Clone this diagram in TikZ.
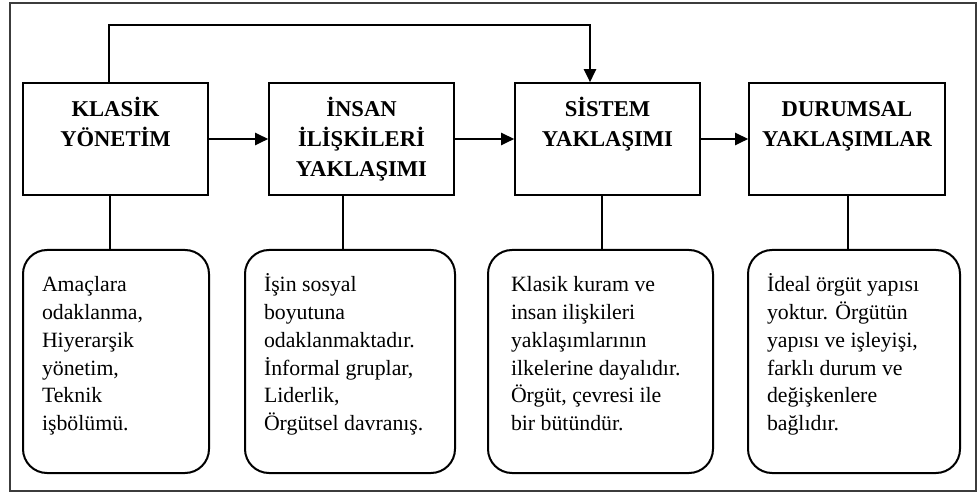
\documentclass[tikz,border=0pt]{standalone}
\usepackage{fontspec}
\setmainfont{Liberation Serif}
\usepackage{xcolor}
\definecolor{cerceve}{RGB}{60,60,60}
\usepackage{tikz}
\usetikzlibrary{arrows.meta}

\newcommand{\baslikmetni}[2]{\parbox[c][112pt][t]{#1}{\centering
  \fontsize{22.6}{30}\selectfont\bfseries\rule{0pt}{34pt}#2}}
\newcommand{\aciklamametni}[2]{\parbox[c][223pt][t]{#1}{\raggedright
  \fontsize{21.8}{27.7}\selectfont\rule{0pt}{42pt}#2}}

\begin{document}
\begin{tikzpicture}[
    x=1pt, y=-1pt,
    baslik/.style={draw, line width=1.6pt, inner sep=0pt},
    aciklama/.style={draw, line width=2pt, rounded corners=24pt,
                     inner xsep=19pt, inner ysep=0pt},
    ok/.style={-{Triangle[length=13pt,width=12pt]}, line width=2.5pt},
    hat/.style={-, line width=2.5pt}
  ]
  \useasboundingbox (0,0) rectangle (978,494);
  \draw[cerceve, line width=1.3pt] (10,3) rectangle (976,491);

  % Yaklasimlar (ust sira)
  \node[baslik] (klasik)   at (115.5,139) {\baslikmetni{185pt}{KLASİK\\YÖNETİM}};
  \node[baslik] (insan)    at (361.5,139) {\baslikmetni{185pt}{İNSAN\\İLİŞKİLERİ\\YAKLAŞIMI}};
  \node[baslik] (sistem)   at (607.5,139) {\baslikmetni{185pt}{SİSTEM\\YAKLAŞIMI}};
  \node[baslik] (durumsal) at (847,139)   {\baslikmetni{196pt}{DURUMSAL\\YAKLAŞIMLAR}};
  \draw[ok] (klasik) -- (insan);
  \draw[ok] (insan) -- (sistem);
  \draw[ok] (sistem) -- (durumsal);
  \draw[ok] ([xshift=-6.5pt]klasik.north) -- ++(0,-57) -| ([xshift=-17.5pt]sistem.north);

  % Aciklamalar (alt sira)
  \node[aciklama] (amac)  at (116,361.5)   {\aciklamametni{148pt}{Amaçlara\\odaklanma,\\Hiyerarşik\\yönetim,\\Teknik\\işbölümü.}};
  \node[aciklama] (isin)  at (350,361.5)   {\aciklamametni{172pt}{İşin sosyal\\boyutuna\\odaklanmaktadır.\\İnformal gruplar,\\Liderlik,\\Örgütsel davranış.}};
  \node[aciklama, inner xsep=23pt] (kuram) at (600.5,361.5) {\aciklamametni{179pt}{Klasik kuram ve\\insan ilişkileri\\yaklaşımlarının\\ilkelerine dayalıdır.\\Örgüt, çevresi ile\\bir bütündür.}};
  \node[aciklama] (ideal) at (854,361.5)   {\aciklamametni{174pt}{İdeal örgüt yapısı\\yoktur. Örgütün\\yapısı ve işleyişi,\\farklı durum ve\\değişkenlere\\bağlıdır.}};

  % Baglantilar
  \draw[hat] ([xshift=-5.5pt]klasik.south) -- ([xshift=-5.5pt]klasik.south |- amac.north);
  \draw[hat] ([xshift=-18.5pt]insan.south) -- ([xshift=-18.5pt]insan.south |- isin.north);
  \draw[hat] ([xshift=-5.5pt]sistem.south) -- ([xshift=-5.5pt]sistem.south |- kuram.north);
  \draw[hat] ([xshift=1pt]durumsal.south) -- ([xshift=1pt]durumsal.south |- ideal.north);
\end{tikzpicture}
\end{document}
